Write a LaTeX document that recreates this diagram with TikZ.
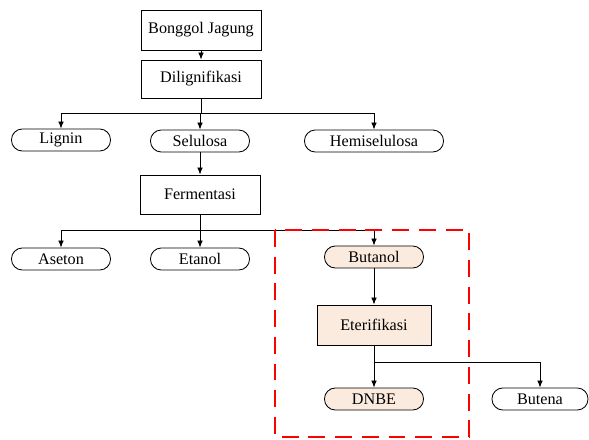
\documentclass[tikz,border=0pt]{standalone}
\usepackage{fontspec}
\setmainfont{Liberation Serif}
\usetikzlibrary{arrows.meta}
\definecolor{peach}{RGB}{251,235,222}
\tikzset{
    box/.style={draw, line width=.6pt, minimum width=3cm, minimum height=1cm, font=\fontsize{11.5}{13}\selectfont},
    pill/.style={draw, line width=.6pt, rounded corners=.27cm, minimum width=2.475cm, minimum height=.55cm, inner sep=1pt, font=\fontsize{11.5}{13}\selectfont},
    flow/.style={-{Latex[length=5pt,width=4pt]}, line width=.6pt}
}
\begin{document}
\begin{tikzpicture}[x=0.025cm, y=-0.025cm]
        \useasboundingbox (0,0) rectangle (589,439);

        \node[box] (bonggol) at (201,30) {Bonggol Jagung};
        \node[box, minimum height=.95cm] (dilig) at (201,79) {Dilignifikasi};
        \node[pill] (lignin) at (61,140) {Lignin};
        \node[pill] (selulosa) at (200,141) {Selulosa};
        \node[pill, minimum width=3.475cm] (hemi) at (374,141) {Hemiselulosa};
        \node[box, minimum height=.975cm] (ferm) at (200,194.5) {Fermentasi};
        \node[pill] (aseton) at (61,259) {Aseton};
        \node[pill] (etanol) at (200,259) {Etanol};
        \node[pill, fill=peach] (butanol) at (374,257) {Butanol};
        \node[box, fill=peach, minimum width=2.85cm] (eter) at (374,325) {Eterifikasi};
        \node[pill, fill=peach] (dnbe) at (374,399) {DNBE};
        \node[pill, minimum width=2.4cm] (butena) at (540,399) {Butena};

        \coordinate (split1) at (201,113);
        \coordinate (split2) at (200,230);
        \coordinate (split3) at (374,362);

        \draw[flow] (bonggol) -- (dilig);
        \draw[line width=.6pt] (dilig) -- (split1);
        \foreach \n in {lignin,selulosa,hemi}
            {\draw[flow] (split1) -| (\n);}
        \draw[flow] (selulosa) -- (ferm);
        \draw[line width=.6pt] (ferm) -- (split2);
        \foreach \n in {aseton,etanol,butanol}
            {\draw[flow] (split2) -| (\n);}
        \draw[flow] (butanol) -- (eter);
        \draw[line width=.6pt] (eter) -- (split3);
        \foreach \n in {dnbe,butena}
            {\draw[flow] (split3) -| (\n);}

        \draw[red, line width=1.7pt, dash pattern=on 12pt off 7pt] (275,230) rectangle (469,437);
    \end{tikzpicture}
\end{document}
